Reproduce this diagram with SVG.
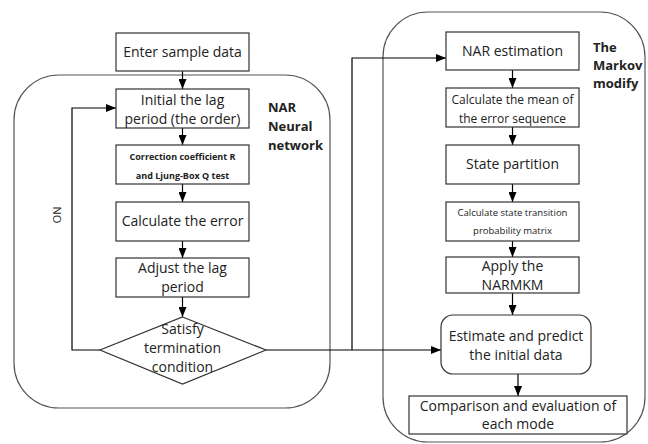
<svg xmlns="http://www.w3.org/2000/svg" width="648" height="444" viewBox="0 0 648 444">
<defs>
<marker id="ah" markerWidth="10" markerHeight="8" refX="10" refY="4" orient="auto" markerUnits="userSpaceOnUse">
<path d="M0,0 L10,4 L0,8 Z" fill="#000"/>
</marker>
<style>
.box{fill:#fff;stroke:#333;stroke-width:1.2}
.cont{fill:none;stroke:#555;stroke-width:1.2}
.t{font-family:"Open Sans","DejaVu Sans",sans-serif;font-size:14px;fill:#222;text-anchor:middle}
.s{font-family:"Open Sans","DejaVu Sans",sans-serif;font-size:12px;fill:#222;text-anchor:middle}
.xs{font-family:"Open Sans","DejaVu Sans",sans-serif;font-size:9px;font-weight:bold;fill:#222;text-anchor:middle}
.xn{font-family:"Open Sans","DejaVu Sans",sans-serif;font-size:9.5px;fill:#222;text-anchor:middle}
.lb{font-family:"Open Sans","DejaVu Sans",sans-serif;font-size:13px;font-weight:bold;fill:#222}
.c{fill:none;stroke:#000;stroke-width:1.2}
</style>
</defs>
<rect class="cont" x="14" y="75" width="316" height="333" rx="45"/>
<rect class="cont" x="383" y="12" width="262" height="430" rx="45"/>
<g id="connectors">
<line class="c" x1="182.5" y1="71" x2="182.5" y2="89" marker-end="url(#ah)"/>
<line class="c" x1="182.5" y1="128" x2="182.5" y2="145" marker-end="url(#ah)"/>
<line class="c" x1="182.5" y1="184" x2="182.5" y2="202" marker-end="url(#ah)"/>
<line class="c" x1="182.5" y1="241" x2="182.5" y2="258" marker-end="url(#ah)"/>
<line class="c" x1="182.5" y1="297" x2="182.5" y2="317" marker-end="url(#ah)"/>
<polyline class="c" points="100,350 72,350 72,108 116,108" marker-end="url(#ah)"/>
<line class="c" x1="266" y1="350" x2="441" y2="350" marker-end="url(#ah)"/>
<polyline class="c" points="352,350 352,58 446,58" marker-end="url(#ah)"/>
<line class="c" x1="512.5" y1="70" x2="512.5" y2="88" marker-end="url(#ah)"/>
<line class="c" x1="512.5" y1="127" x2="512.5" y2="145" marker-end="url(#ah)"/>
<line class="c" x1="512.5" y1="184" x2="512.5" y2="202" marker-end="url(#ah)"/>
<line class="c" x1="512.5" y1="241" x2="512.5" y2="257" marker-end="url(#ah)"/>
<line class="c" x1="512.5" y1="293" x2="512.5" y2="315" marker-end="url(#ah)"/>
<line class="c" x1="518" y1="374" x2="518" y2="396" marker-end="url(#ah)"/>
<text class="t" transform="translate(53,215) rotate(90)" style="font-size:11px">NO</text>
</g>
<g id="enter"><rect class="box" x="116" y="33" width="133" height="38"/><text class="t" x="182.5" y="57">Enter sample data</text></g>
<g id="initial"><rect class="box" x="116" y="89" width="133" height="39"/><text class="t" x="182.5" y="105">Initial the lag</text><text class="t" x="182.5" y="124">period (the order)</text></g>
<g id="correction"><rect class="box" x="116" y="145" width="133" height="39"/><text class="xs" x="182.5" y="160">Correction coefficient  R</text><text class="xs" x="182.5" y="179">and Ljung-Box Q test</text></g>
<g id="error"><rect class="box" x="116" y="202" width="133" height="39"/><text class="t" x="182.5" y="226">Calculate the error</text></g>
<g id="adjust"><rect class="box" x="116" y="258" width="133" height="39"/><text class="t" x="182.5" y="273">Adjust the lag</text><text class="t" x="182.5" y="292">period</text></g>
<g id="satisfy"><polygon class="box" points="182.5,317 266,350 182.5,384 100,350"/><text class="t" x="182.5" y="334">Satisfy</text><text class="t" x="182.5" y="353">termination</text><text class="t" x="182.5" y="372">condition</text></g>
<g id="nar-label"><text class="lb" x="268" y="112">NAR</text><text class="lb" x="268" y="131">Neural</text><text class="lb" x="268" y="150">network</text></g>
<g id="narest"><rect class="box" x="446" y="32" width="133" height="38"/><text class="t" x="512.5" y="56">NAR estimation</text></g>
<g id="mean"><rect class="box" x="446" y="88" width="133" height="39"/><text class="s" x="512.5" y="104">Calculate the mean of</text><text class="s" x="512.5" y="123">the error sequence</text></g>
<g id="state"><rect class="box" x="446" y="145" width="133" height="39"/><text class="t" x="512.5" y="169">State partition</text></g>
<g id="transition"><rect class="box" x="446" y="202" width="133" height="39"/><text class="xn" x="512.5" y="216">Calculate state transition</text><text class="xn" x="512.5" y="234">probability matrix</text></g>
<g id="apply"><rect class="box" x="446" y="257" width="133" height="36"/><text class="t" x="512.5" y="271">Apply the</text><text class="t" x="512.5" y="290">NARMKM</text></g>
<g id="estimate"><rect class="box" x="441" y="315" width="150" height="59" rx="12"/><text class="t" x="516" y="341">Estimate and predict</text><text class="t" x="516" y="360">the initial data</text></g>
<g id="compare"><rect class="box" x="409" y="396" width="218" height="38"/><text class="t" x="518" y="411">Comparison and evaluation of</text><text class="t" x="518" y="429">each mode</text></g>
<g id="markov-label"><text class="lb" x="593" y="52">The</text><text class="lb" x="593" y="70">Markov</text><text class="lb" x="593" y="88">modify</text></g>
</svg>
